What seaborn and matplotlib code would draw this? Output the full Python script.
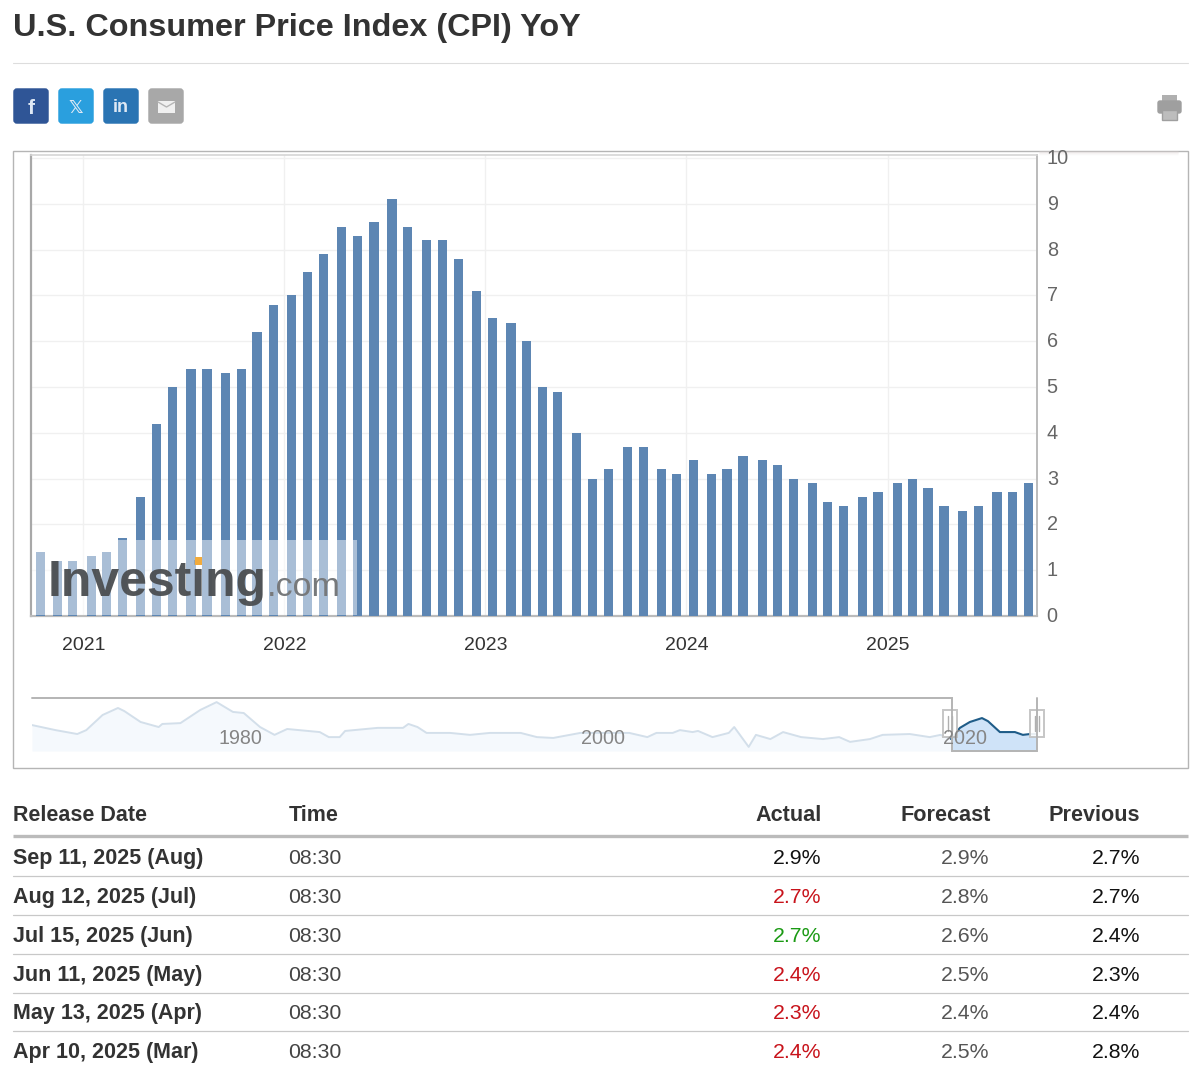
import numpy as np
import pandas as pd
import matplotlib
matplotlib.use("Agg")
import matplotlib.pyplot as plt
import matplotlib.dates as mdates
from matplotlib.patches import Rectangle, FancyBboxPatch
from matplotlib.transforms import ScaledTranslation
import seaborn as sns

# ---------- data ----------
release_dates = [
    "2020-10-13", "2020-11-12", "2020-12-10", "2021-01-13", "2021-02-10", "2021-03-10",
    "2021-04-13", "2021-05-12", "2021-06-10", "2021-07-13", "2021-08-11", "2021-09-14",
    "2021-10-13", "2021-11-10", "2021-12-10", "2022-01-12", "2022-02-10", "2022-03-10",
    "2022-04-12", "2022-05-11", "2022-06-10", "2022-07-13", "2022-08-10", "2022-09-13",
    "2022-10-13", "2022-11-10", "2022-12-13", "2023-01-12", "2023-02-14", "2023-03-14",
    "2023-04-12", "2023-05-10", "2023-06-13", "2023-07-12", "2023-08-10", "2023-09-13",
    "2023-10-12", "2023-11-14", "2023-12-12", "2024-01-11", "2024-02-13", "2024-03-12",
    "2024-04-10", "2024-05-15", "2024-06-12", "2024-07-11", "2024-08-14", "2024-09-11",
    "2024-10-10", "2024-11-13", "2024-12-11", "2025-01-15", "2025-02-12", "2025-03-12",
    "2025-04-10", "2025-05-13", "2025-06-11", "2025-07-15", "2025-08-12", "2025-09-11",
]
cpi_values = [
    1.4, 1.2, 1.2, 1.3, 1.4, 1.7, 2.6, 4.2, 5.0, 5.4, 5.4, 5.3,
    5.4, 6.2, 6.8, 7.0, 7.5, 7.9, 8.5, 8.3, 8.6, 9.1, 8.5, 8.2,
    8.2, 7.8, 7.1, 6.5, 6.4, 6.0, 5.0, 4.9, 4.0, 3.0, 3.2, 3.7,
    3.7, 3.2, 3.1, 3.4, 3.1, 3.2, 3.5, 3.4, 3.3, 3.0, 2.9, 2.5,
    2.4, 2.6, 2.7, 2.9, 3.0, 2.8, 2.4, 2.3, 2.4, 2.7, 2.7, 2.9,
]
year_ticks = ["2021-01-01", "2022-01-01", "2023-01-01", "2024-01-01", "2025-01-01"]
year_labels = ["2021", "2022", "2023", "2024", "2025"]
y_ticks = list(range(0, 11))

history_years = [
    1970, 1971.3, 1972.5, 1973, 1973.9, 1974.75, 1975.1, 1976, 1977, 1977.2, 1978.2, 1979.3,
    1980.2, 1981.1, 1981.7, 1982.6, 1983.4, 1984.1, 1985.9, 1986.4, 1987, 1987.3, 1989.1,
    1989.8, 1990.5, 1990.8, 1991.3, 1991.8, 1993.1, 1994.2, 1995.3, 1997, 1997.9, 1998.8,
    2000.3, 2003, 2004, 2004.5, 2005.4, 2005.8, 2006.5, 2006.8, 2007.6, 2008.5, 2008.8,
    2009.6, 2010, 2010.8, 2011.5, 2012.5, 2013.7, 2014.6, 2015.2, 2016.3, 2017, 2018.5,
    2019.6, 2020.2, 2020.78,
]
history_values = [
    6.4, 4.6, 3.2, 4.6, 10, 12.5, 11.4, 7.5, 5.7, 6.8, 7.1, 11.8,
    14.6, 11.1, 10.7, 5.7, 2.9, 5, 3.9, 2.1, 2.1, 4.3, 5.4,
    5.4, 5.4, 6.8, 5.7, 3.6, 3.6, 2.9, 3.6, 3.6, 2.1, 1.8,
    3.6, 3.6, 2.1, 3.6, 3.6, 4.6, 3.9, 4.3, 2.1, 3.6, 5.7,
    -1.4, 2.9, 1.4, 3.9, 2.1, 1.4, 2.1, 0.4, 1.4, 2.9, 3.2,
    2.1, 2.9, 1.4,
]
selected_years = [2020.78, 2021.27, 2021.82, 2022.49, 2022.82, 2023.48, 2024.31, 2024.75, 2025.14, 2025.48]
selected_values = [1.4, 5.4, 7.5, 8.9, 7.8, 3.9, 3.9, 2.9, 3.2, 3.2]
nav_labels = ["1980", "2000", "2020"]

table_header = ["Release Date", "Time", "Actual", "Forecast", "Previous"]
table_dates = ["Sep 11, 2025 (Aug)", "Aug 12, 2025 (Jul)", "Jul 15, 2025 (Jun)",
               "Jun 11, 2025 (May)", "May 13, 2025 (Apr)", "Apr 10, 2025 (Mar)"]
table_time = ["08:30"] * 6
table_actual = ["2.9%", "2.7%", "2.7%", "2.4%", "2.3%", "2.4%"]
table_actual_state = ["same", "miss", "beat", "miss", "miss", "miss"]
table_forecast = ["2.9%", "2.8%", "2.6%", "2.5%", "2.4%", "2.5%"]
table_previous = ["2.7%", "2.7%", "2.4%", "2.3%", "2.4%", "2.8%"]

# ---------- setup ----------
W, H = 1202, 1076
sns.set_theme(style="white")
plt.rcParams["font.family"] = ["Liberation Sans", "DejaVu Sans"]
fig = plt.figure(figsize=(W / 100, H / 100), dpi=100, facecolor="white")


def box(x0, y_top, x1, y_bot):
    return [x0 / W, 1 - y_bot / H, (x1 - x0) / W, (y_bot - y_top) / H]


page = fig.add_axes([0, 0, 1, 1], zorder=0)
page.set_xlim(0, W); page.set_ylim(H, 0); page.axis("off")
over = fig.add_axes([0, 0, 1, 1], zorder=5)
over.set_xlim(0, W); over.set_ylim(H, 0); over.axis("off"); over.patch.set_alpha(0)

# ---------- header ----------
page.text(13, 36, "U.S. Consumer Price Index (CPI) YoY", fontsize=23.3, fontweight="bold",
          color="#333333", va="baseline")
page.plot([13, 1188], [62.5, 62.5], color="#dddddd", lw=0.8)

icons = [(13, "#2f5596", "f"), (58, "#2a9fde", "𝕏"), (103, "#2a74b3", "in"), (148, "#a8a8a8", "")]
for x0, col, txt in icons:
    page.add_patch(FancyBboxPatch((x0 + 2, 90), 32, 32, boxstyle="round,pad=0,rounding_size=2",
                                  mutation_aspect=1, fc=col, ec=col, lw=2.5))
    if txt:
        page.text(x0 + 18, 108, txt, color="#dfe9f5", fontsize=13 if txt != "f" else 15,
                  fontweight="bold", ha="center", va="center",
                  family=["DejaVu Sans"] if txt == "𝕏" else ["Liberation Sans"])
page.add_patch(Rectangle((158, 101), 17, 12, fc="#f0f0f0", ec="none"))
page.plot([158, 166.5, 175], [102, 107, 102], color="#b5b5b5", lw=1)
# printer
page.add_patch(Rectangle((1162, 95), 15, 7, fc="#b0b0b0", ec="none"))
page.add_patch(FancyBboxPatch((1158, 101), 23, 12, boxstyle="round,pad=0,rounding_size=2",
                              fc="#9f9f9f", ec="#9f9f9f", lw=1))
page.add_patch(Rectangle((1162, 110), 15, 10, fc="#bdbdbd", ec="#9f9f9f", lw=1))

# ---------- chart panel ----------
page.add_patch(Rectangle((13, 150.5), 1174.5, 617, fc="white", ec="#b5b5b5", lw=1))

# soft shadow at panel top
for i, a in enumerate([0.35, 0.22, 0.12, 0.05]):
    page.plot([1040, 1178], [152 + i, 152 + i], color="#e0d6d6", alpha=a, lw=1.2)

ax = fig.add_axes(box(31, 155, 1037, 616), zorder=1)
ax.patch.set_alpha(0)
bar_offset_days = 2.5  # the source draws each bar slightly after its release date
df = pd.DataFrame({"release": mdates.date2num(pd.to_datetime(release_dates)) + bar_offset_days,
                   "cpi": cpi_values})
sns.barplot(data=df, x="release", y="cpi", native_scale=True, width=0.6, color="#5d86b3",
            saturation=1, errorbar=None, linewidth=0, ax=ax, zorder=3)
px_per_day = 201.2 / 365.25
anchor = mdates.date2num(pd.Timestamp("2021-01-01"))
ax.set_xlim(anchor - 52.3 / px_per_day, anchor + 953.7 / px_per_day)
ax.set_ylim(0, 461 / 45.8)
ax.set_xticks(mdates.date2num(pd.to_datetime(year_ticks)), year_labels)
ax.set_yticks(y_ticks)
ax.yaxis.tick_right()
ax.set_xlabel(""); ax.set_ylabel("")
ax.grid(True, color="#f0f0f0", lw=1)
ax.set_axisbelow(True)
ax.tick_params(axis="x", length=0, pad=15, labelsize=14, labelcolor="#333333")
ax.tick_params(axis="y", length=0, pad=7, labelsize=14.3, labelcolor="#666666")
lift = ScaledTranslation(0, 1.5 / 100, fig.dpi_scale_trans)
for lab in ax.get_yticklabels():
    lab.set_transform(lab.get_transform() + lift)
for s, c, lw in [("left", "#a8a8a8", 1.6), ("right", "#bbbbbb", 1.4),
                 ("bottom", "#bbbbbb", 1.6), ("top", "#d5d5d5", 1.2)]:
    ax.spines[s].set_visible(True)
    ax.spines[s].set_color(c)
    ax.spines[s].set_linewidth(lw)

# cover the clipped top of the "10" label
over.add_patch(Rectangle((1039, 127), 60, 23, fc="white", ec="none"))

# watermark
over.add_patch(Rectangle((32, 540), 325, 75, fc="white", ec="none", alpha=0.47))
over.text(48, 596, "Investing", fontsize=35.9, fontweight="bold", color="#4a4d50", va="baseline",
          alpha=0.95)
over.text(267, 596, ".com", fontsize=24.5, color="#77797b", va="baseline")
over.add_patch(Rectangle((195, 557), 7, 8, fc="#f2ab3c", ec="none", zorder=6))

# ---------- navigator ----------
nav = fig.add_axes(box(32, 698, 1037, 751), zorder=2)
nav.patch.set_alpha(0)
nav.fill_between(history_years, history_values, -2.86, color="#f5f9fd", lw=0)
nav.fill_between(selected_years, selected_values, -2.86, color="#cfe3f8", lw=0)
sns.lineplot(x=history_years, y=history_values, sort=False, errorbar=None, color="#d3dfea", lw=1.4, ax=nav)
sns.lineplot(x=selected_years, y=selected_values, sort=False, errorbar=None, color="#1f5c88", lw=1.5, ax=nav)
nav.set_xlim(1970, 2025.53)
nav.set_ylim(-2.86, 16.07)
nav.axis("off")

# navigator outline and handles
over.plot([32, 952, 952, 1036.5, 1036.5], [697.5, 697.5, 751, 751, 697.5],
          color="#b4b4b4", lw=1.4, solid_joinstyle="miter")
for xc in (950, 1036.5):
    over.add_patch(Rectangle((xc - 7, 710), 14, 27, fc="white", ec="#c0c0c0", lw=1.4, alpha=0.9))
    for dx in (-2, 2):
        over.plot([xc + dx, xc + dx], [716, 731], color="#b0b0b0", lw=1)
for lab, xc in zip(nav_labels, (240.5, 602.5, 965)):
    over.text(xc, 744, lab, fontsize=14.2, color="#858585", ha="center", va="baseline")

# ---------- table ----------
page.text(13, 821, table_header[0], fontsize=15.5, fontweight="bold", color="#333333")
page.text(289, 821, table_header[1], fontsize=15.5, fontweight="bold", color="#333333")
for lab, xr in zip(table_header[2:], (821.5, 990.5, 1140.5)):
    page.text(xr, 821, lab, fontsize=15.6, fontweight="bold", color="#333333", ha="right")
page.plot([13, 1188], [835.5, 835.5], color="#bbbbbb", lw=2.4, solid_capstyle="butt")

state_color = {"same": "#111111", "miss": "#c8131b", "beat": "#1b9a14"}
baselines = [864, 903, 942, 981, 1019, 1058]
separators = [875.5, 914.5, 953.5, 992.5, 1030.5]
for sep in separators:
    page.plot([13, 1188], [sep, sep], color="#c8c8c8", lw=0.9)
for i, b in enumerate(baselines):
    page.text(13, b, table_dates[i], fontsize=15.5, fontweight="bold", color="#333333")
    page.text(288, b, table_time[i], fontsize=15.3, color="#444444")
    page.text(821.5, b, table_actual[i], fontsize=15.3, color=state_color[table_actual_state[i]], ha="right")
    page.text(989.5, b, table_forecast[i], fontsize=15.3, color="#555555", ha="right")
    page.text(1140.5, b, table_previous[i], fontsize=15.3, color="#111111", ha="right")

fig.savefig("out.png", dpi=100, facecolor="white")
